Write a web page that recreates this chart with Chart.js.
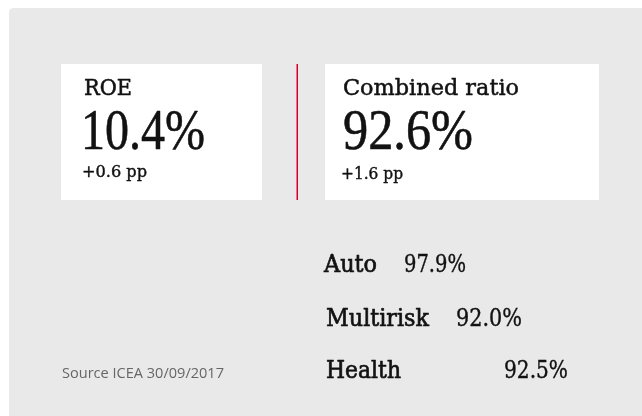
<!DOCTYPE html>
<html>
<head>
<meta charset="utf-8">
<script src="https://cdn.jsdelivr.net/npm/chart.js@4/dist/chart.umd.min.js"></script>
<style>
  html, body { margin: 0; padding: 0; background: #ffffff; }
  #c { display: block; }
</style>
</head>
<body>
<canvas id="c" width="642" height="416"></canvas>
<script>
// ---- data ----
const kpiLabels = ['ROE', 'Combined ratio'];
const kpiValues = [10.4, 92.6];
const kpiChanges = [0.6, 1.6];
const segLabels = ['Auto', 'Multirisk', 'Health'];
const segValues = [97.9, 92.0, 92.5];
const sourceText = 'Source ICEA 30/09/2017';

// ---- layout (positions / styles) ----
const SERIF = '"DejaVu Serif", "Liberation Serif", serif';
const BIG = '"Liberation Serif", "DejaVu Serif", serif';
const SANS = '"Open Sans", "Noto Sans", sans-serif';
const kpiBoxes = [
  { x: 61, y: 64, w: 201, h: 136, lx: 84, lw: 48, vx: 81, vw: 124, cx: 82, cw: 65, cy: 177 },
  { x: 325, y: 64, w: 274, h: 136, lx: 343, lw: 176, vx: 343, vw: 130, cx: 341, cw: 62, cy: 179 }
];
const segLayout = [
  { lx: 324, lw: 53, vx: 404, vw: 62, y: 272 },
  { lx: 326, lw: 103, vx: 456, vw: 66, y: 326 },
  { lx: 326, lw: 75, vx: 504, vw: 64, y: 378 }
];

function txt(ctx, s, x, y, size, family, w, color, stroke) {
  ctx.save();
  ctx.font = size + 'px ' + family;
  const m = ctx.measureText(s).width;
  const sx = w ? w / m : 1;
  ctx.translate(x, y);
  ctx.scale(sx, 1);
  ctx.fillStyle = color || '#121212';
  ctx.textBaseline = 'alphabetic';
  ctx.textAlign = 'left';
  ctx.fillText(s, 0, 0);
  if (stroke) {
    ctx.strokeStyle = color || '#121212';
    ctx.lineWidth = stroke;
    ctx.lineJoin = 'round';
    ctx.strokeText(s, 0, 0);
  }
  ctx.restore();
}

const infographic = {
  id: 'infographic',
  beforeDraw(chart) {
    const ctx = chart.ctx;
    ctx.save();
    ctx.fillStyle = '#ffffff';
    ctx.fillRect(0, 0, chart.width, chart.height);
    // panel
    ctx.fillStyle = '#e9e9e9';
    ctx.beginPath();
    const px = 9, py = 8, r = 5;
    ctx.moveTo(px + r, py);
    ctx.lineTo(chart.width, py);
    ctx.lineTo(chart.width, chart.height);
    ctx.lineTo(px, chart.height);
    ctx.lineTo(px, py + r);
    ctx.quadraticCurveTo(px, py, px + r, py);
    ctx.closePath();
    ctx.fill();
    // kpi boxes
    kpiLabels.forEach((lab, i) => {
      const b = kpiBoxes[i];
      ctx.fillStyle = '#ffffff';
      ctx.fillRect(b.x, b.y, b.w, b.h);
      txt(ctx, lab, b.lx, 95, 23, SERIF, b.lw, '#121212', 0.5);
      txt(ctx, kpiValues[i].toFixed(1) + '%', b.vx, 149, 58, BIG, b.vw, '#121212', 0.6);
      txt(ctx, '+' + kpiChanges[i].toFixed(1) + ' pp', b.cx, b.cy, 16, SERIF, b.cw, '#121212', 0.4);
    });
    // red divider
    ctx.fillStyle = '#d7002b';
    ctx.fillRect(296.5, 64, 1.5, 136);
    // segments
    segLabels.forEach((lab, i) => {
      const s = segLayout[i];
      txt(ctx, lab, s.lx, s.y, 24, SERIF, s.lw, '#121212', 0.7);
      txt(ctx, segValues[i].toFixed(1) + '%', s.vx, s.y, 24, SERIF, s.vw, '#121212', 0.4);
    });
    // source
    txt(ctx, sourceText, 62, 378, 15, SANS, 162, '#666666');
    ctx.restore();
  }
};

new Chart(document.getElementById('c'), {
  type: 'bar',
  data: { labels: segLabels, datasets: [{ data: [], backgroundColor: 'transparent' }] },
  options: {
    responsive: false,
    animation: false,
    devicePixelRatio: 1,
    layout: { padding: 0 },
    scales: { x: { display: false }, y: { display: false } },
    plugins: { legend: { display: false }, tooltip: { enabled: false } }
  },
  plugins: [infographic]
});
</script>
</body>
</html>
